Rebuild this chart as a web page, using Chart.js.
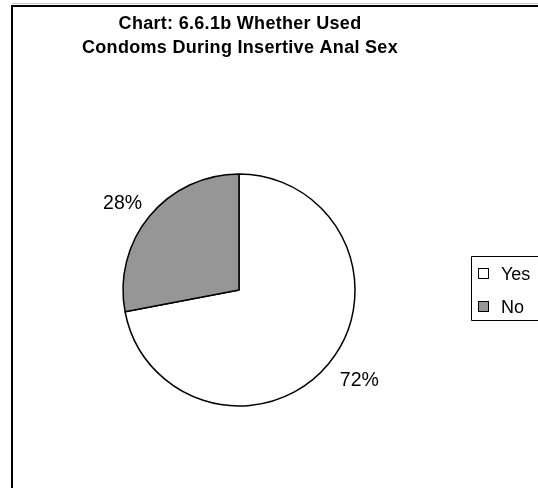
<!DOCTYPE html>
<html>
<head>
<meta charset="utf-8">
<script src="https://cdn.jsdelivr.net/npm/chart.js@4/dist/chart.umd.min.js"></script>
<style>
  html, body { margin: 0; padding: 0; background: #ffffff; }
  #wrap { width: 538px; height: 488px; }
  canvas { display: block; }
</style>
</head>
<body>
<div id="wrap"><canvas id="pie" width="538" height="488"></canvas></div>
<script>
// Condom use during insertive anal sex (percent of respondents)
const categories = ['Yes', 'No'];
const shares = [72, 28];
const titleLines = ['Chart: 6.6.1b Whether Used', 'Condoms During Insertive Anal Sex'];

const sliceColors = ['#ffffff', '#969696'];
const FONT = '"Liberation Sans", Arial, Helvetica, sans-serif';

// Outer frame of the chart sheet (left and top edges are visible)
const framePlugin = {
  id: 'frame',
  beforeDraw(chart) {
    const ctx = chart.ctx;
    ctx.save();
    ctx.fillStyle = '#ffffff';
    ctx.fillRect(0, 0, chart.width, chart.height);
    ctx.strokeStyle = '#c8c8c8';
    ctx.lineWidth = 1;
    ctx.beginPath();
    ctx.moveTo(12, 3.5);
    ctx.lineTo(chart.width, 3.5);
    ctx.stroke();
    ctx.strokeStyle = '#000000';
    ctx.lineWidth = 2;
    ctx.beginPath();
    ctx.moveTo(12, chart.height);
    ctx.lineTo(12, 6);
    ctx.lineTo(chart.width, 6);
    ctx.stroke();
    ctx.restore();
  }
};

// Two-line bold heading centred over the pie
const headingPlugin = {
  id: 'heading',
  afterDraw(chart) {
    const ctx = chart.ctx;
    const meta = chart.getDatasetMeta(0);
    const cx = meta.data.length ? meta.data[0].x : chart.width / 2;
    ctx.save();
    ctx.font = 'bold 18px ' + FONT;
    if ('letterSpacing' in ctx) ctx.letterSpacing = '0.3px';
    ctx.fillStyle = '#000000';
    ctx.textAlign = 'center';
    ctx.textBaseline = 'middle';
    titleLines.forEach((line, i) => {
      ctx.fillText(line, cx + 1, 24 + i * 24);
    });
    ctx.restore();
  }
};

// Percentage labels placed just outside each slice, anchored at the corner nearest the pie
const sliceLabelPlugin = {
  id: 'sliceLabels',
  afterDatasetsDraw(chart) {
    const ctx = chart.ctx;
    const meta = chart.getDatasetMeta(0);
    const values = chart.data.datasets[0].data;
    const total = values.reduce((a, b) => a + b, 0);
    ctx.save();
    ctx.font = '19.5px ' + FONT;
    ctx.fillStyle = '#000000';
    meta.data.forEach((arc, i) => {
      const p = arc.getProps(['x', 'y', 'startAngle', 'endAngle', 'outerRadius'], true);
      const mid = (p.startAngle + p.endAngle) / 2;
      const r = p.outerRadius + 11;
      const ax = p.x + Math.cos(mid) * r;
      const ay = p.y + Math.sin(mid) * r;
      const text = Math.round(values[i] / total * 100) + '%';
      const cap = 14.5;
      let tx, ty;
      if (Math.cos(mid) >= 0) { ctx.textAlign = 'left'; tx = ax + 3; }
      else { ctx.textAlign = 'right'; tx = ax + 1; }
      if (Math.sin(mid) >= 0) { ty = ay + cap + 1; }
      else { ty = ay; }
      ctx.textBaseline = 'alphabetic';
      ctx.fillText(text, tx, ty);
    });
    ctx.restore();
  }
};

// Boxed legend on the right-hand side
const boxLegendPlugin = {
  id: 'boxLegend',
  afterDraw(chart) {
    const ctx = chart.ctx;
    const ds = chart.data.datasets[0];
    ctx.save();
    ctx.strokeStyle = '#000000';
    ctx.lineWidth = 1;
    ctx.fillStyle = '#ffffff';
    ctx.beginPath();
    ctx.rect(471.5, 256.5, 80, 64);
    ctx.fill();
    ctx.stroke();
    ctx.font = '18px ' + FONT;
    ctx.textAlign = 'left';
    ctx.textBaseline = 'alphabetic';
    chart.data.labels.forEach((label, i) => {
      const cy = 274 + i * 33;
      ctx.fillStyle = ds.backgroundColor[i];
      ctx.fillRect(478.5, cy - 5.5, 10, 10);
      ctx.strokeStyle = '#000000';
      ctx.lineWidth = 1;
      ctx.strokeRect(478.5, cy - 5.5, 10, 10);
      ctx.fillStyle = '#000000';
      ctx.fillText(label, 501, cy + 5.5);
    });
    ctx.restore();
  }
};

new Chart(document.getElementById('pie'), {
  type: 'pie',
  data: {
    labels: categories,
    datasets: [{
      data: shares,
      backgroundColor: sliceColors,
      borderColor: '#000000',
      borderWidth: 1.5
    }]
  },
  options: {
    responsive: false,
    devicePixelRatio: 1,
    animation: false,
    events: [],
    layout: {
      padding: { left: 122.25, right: 182.25, top: 173.25, bottom: 81.25 }
    },
    plugins: {
      legend: { display: false },
      tooltip: { enabled: false },
      title: { display: false }
    }
  },
  plugins: [framePlugin, headingPlugin, sliceLabelPlugin, boxLegendPlugin]
});
</script>
</body>
</html>
